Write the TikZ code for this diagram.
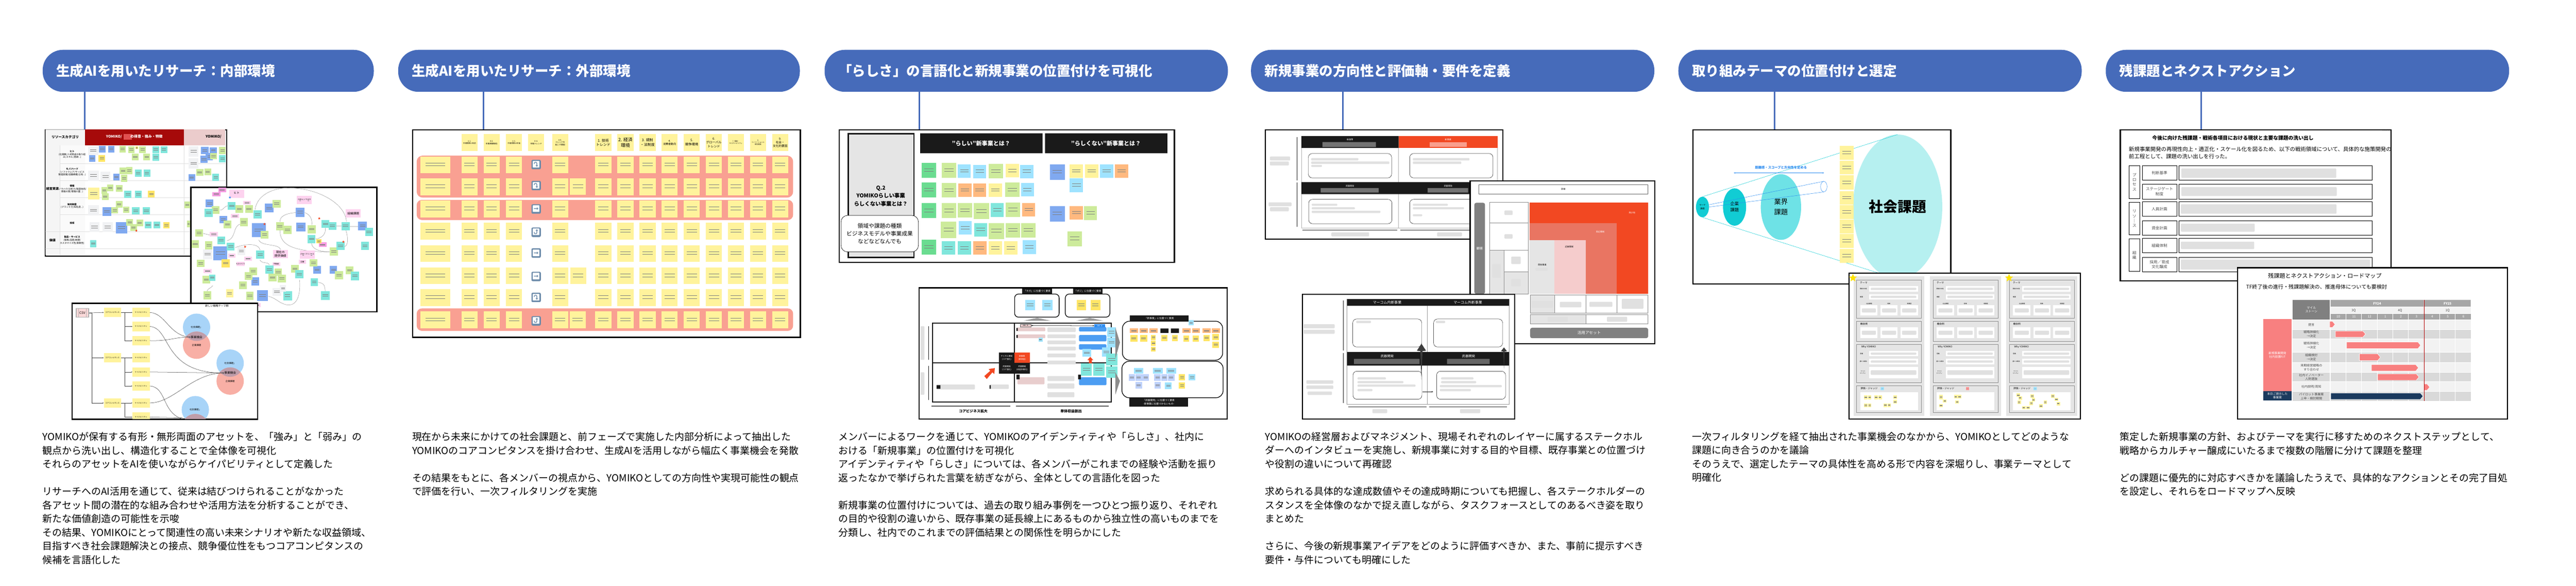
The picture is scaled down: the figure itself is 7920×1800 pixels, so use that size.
\documentclass[tikz,border=0pt]{standalone}
\usepackage{fontspec}
\setmainfont{Noto Sans CJK JP}
\newfontfamily\symfont{Noto Emoji}
\usetikzlibrary{arrows.meta,shapes.geometric}
\definecolor{stage}{HTML}{466BBA}
\definecolor{notegreen}{HTML}{CDEB9B}
\definecolor{noteteal}{HTML}{80E6DC}
\definecolor{noteblue}{HTML}{80A9F0}
\definecolor{notewhite}{HTML}{F1F2F4}
\definecolor{noteyellow}{HTML}{FFE566}
\definecolor{notecream}{HTML}{FFF39C}
\definecolor{notepink}{HTML}{FDD3EF}
\definecolor{notemag}{HTML}{F79BE2}
\definecolor{notesky}{HTML}{9FE3FF}
\definecolor{noteorange}{HTML}{FFB97F}
\definecolor{notelime}{HTML}{6ADC90}
\definecolor{notelilac}{HTML}{BFD2FB}
\definecolor{salmon}{HTML}{F9A092}
\definecolor{redcore}{HTML}{A60A0A}
\definecolor{pinkcore}{HTML}{EBCCCC}
\definecolor{flame}{HTML}{F24822}
\definecolor{coral}{HTML}{E97562}
\definecolor{blush}{HTML}{F5CCCC}
\definecolor{sheet}{HTML}{E5E5E5}
\definecolor{ink}{HTML}{1A1A1A}
\definecolor{cyanA}{HTML}{11CCD4}
\definecolor{cyanB}{HTML}{6EE2E6}
\definecolor{cyanC}{HTML}{B6F0F0}
\definecolor{azure}{HTML}{2D8CF0}
\definecolor{skyblob}{HTML}{A8D4F8}
\definecolor{redblob}{HTML}{F8AFA5}
\definecolor{lens}{HTML}{BF9DAA}
\definecolor{ganttlight}{HTML}{F2F2F2}
\definecolor{ganttmid}{HTML}{D9D9D9}
\definecolor{gantthead}{HTML}{A6A6A6}
\definecolor{ganttdark}{HTML}{808080}
\definecolor{ganttbar}{HTML}{F88080}
\definecolor{navy}{HTML}{1B3A5E}
\definecolor{trendblue}{HTML}{6C8BAA}
\newcommand{\fs}[2]{\fontsize{#1}{#2}\selectfont}
\newcommand{\stickies}[2]{\foreach \x/\y/\w/\h in {#2} {
    \fill[#1] (\x,\y) rectangle ++(\w,\h);
    \draw[scrib] (\x+.18*\w,\y+.38*\h) -- ++(.64*\w,0) (\x+.18*\w,\y+.56*\h) -- ++(.64*\w,0);
}}
\newcommand{\blurs}[1]{\foreach \x/\y/\w/\h in {#1} {\fill[blurbar] (\x,\y) rectangle ++(\w,\h);}}
\tikzset{
    crop/.style n args={4}{shift={(#1,#2)},x=#3pt,y=-#4pt},
    heading/.style={anchor=north west, fill=stage, text=white, font=\bfseries\fs{42}{50}, align=left,
        inner xsep=42pt, inner ysep=0pt, minimum height=129pt, rounded corners=62pt},
    stem/.style={stage, line width=5pt},
    panel/.style={rectangle, anchor=north west, draw=black, fill=white, line width=3.5pt, inner sep=0pt},
    bodytext/.style={anchor=north west, inner sep=0pt, align=left, font=\fs{30}{42}},
    scrib/.style={black!50, line width=.5pt},
    blurbar/.style={fill=black!12, rounded corners=2pt},
    hair/.style={black!12, line width=.8pt},
    label/.style={inner sep=0pt, align=center, font=\fs{7}{9}},
    boxed/.style={rectangle, draw=black, fill=white, rounded corners=12pt, inner sep=0pt},
    tagblack/.style={rectangle, fill=ink, text=white, inner sep=0pt, align=center, font=\fs{7.5}{10}},
    link/.style={black!75, line width=.8pt, -{Stealth[length=4pt,width=3pt]}},
    curveline/.style={black!45, line width=.7pt},
    trendkey/.style={rectangle, fill=trendblue, rounded corners=4pt, text=white,
        minimum width=29pt, minimum height=29pt, inner sep=0pt, font=\symfont\fs{20}{22}},
    teststar/.style={star, star points=5, star point ratio=2.3, inner sep=0pt, draw=none},
    yellownote/.style={rectangle, fill=notecream, minimum width=53pt, minimum height=29pt,
        inner sep=0pt, font=\fs{5.5}{7}},
    stamp/.style={inner sep=0pt, text=black!40, font=\fs{4.5}{5}},
}

\begin{document}
\begin{tikzpicture}[x=1pt,y=-1pt]
\useasboundingbox (0,0) rectangle (7920,1800);

% Column 1
\node[heading,text width=934pt] (head1) at (131,153) {生成AIを用いたリサーチ：内部環境};
\node[panel,minimum width=557pt,minimum height=388pt] (tableA) at (138,397) {};
\draw[stem] ([xshift=130pt]head1.south west) -- ([xshift=123pt]tableA.north west);

\begin{scope}[crop={0}{100}{.765}{.51}]
\fill[black!4] (183,585) rectangle (342,680) (183,680) rectangle (240,1340);
\fill[black!2] (241,680) rectangle (342,1340);
\fill[redcore] (342,585) rectangle (740,680);
\fill[pinkcore] (740,585) rectangle (905,680);
\fill[red!50!redcore!70] (497,612) rectangle (530,646);
\foreach \ry in {790,892,995,1097} {\draw[hair] (241,\ry) -- (905,\ry);}
\foreach \ry in {1200,1302} {\draw[hair] (183,\ry) -- (905,\ry);}
\draw[hair] (240,680) -- (240,1340) (740,680) -- (740,1340);
\node[label,font=\bfseries\fs{10.5}{13}] (resCat) at (262,629) {リソースカテゴリ};
\node[label,font=\bfseries\fs{11}{13},text=white] (strongHead) at (540,629) {YOMIKO/\hspace{26pt}の得意・強み・特徴};
\node[label,font=\bfseries\fs{11}{13},anchor=west] (weakHead) at (826,629) {YOMIKO/};
\node[label,font=\bfseries\fs{9.5}{12}] (resGroup) at (211,941) {経営資源};
\node[label,font=\bfseries\fs{9.5}{12}] (valGroup) at (211,1252) {価値};
\foreach \ly/\txt [count=\i] in {735/{\textbf{ヒト}\\(社員数/人材育成の取り組\\み/スキル/意欲...)},
    841/{\textbf{モノ/ハード}\\(ソフトウェア/サービス\\製造設備/店舗規模/立地...)},
    943/{\textbf{情報}\\(ノウハウ/分析力/製造技術/\\情報の質/情報の量...)},
    1045/{\textbf{知的財産}\\(ブランド力/知名度...)},
    1148/{\textbf{技術}},
    1251/{\textbf{製品・サービス}\\(価格/品質/納期/\\カスタマイズ性/柔軟性)}} {
    \node[label] (resRow\i) at (290,\ly) {\txt};
}
\stickies{notewhite}{355/685/40/55,758/685/40/62,758/758/40/62,355/832/42/62,404/838/40/62,355/1041/42/62,360/1141/40/62,413/1141/40/62}
\stickies{noteblue}{397/682/28/40,435/682/25/40,358/740/26/38,808/688/30/45,843/692/28/35,826/725/30/45,805/742/30/44,455/850/26/40,758/854/26/40,412/1052/36/54,465/1141/47/70}
\stickies{notegreen}{480/682/26/40,515/685/26/40,560/685/27/40,530/728/27/42,576/728/27/42,881/690/26/42,844/725/28/40,481/813/28/42,507/811/26/42,486/858/26/42,789/822/28/42,822/820/26/40,407/932/24/40,430/916/26/40,466/920/27/40,410/968/26/40,448/1051/26/40,466/1016/26/40,494/1048/26/40,741/1018/24/40,508/1125/26/40,549/1127/26/40,524/1156/26/40,751/1133/14/40}
\stickies{noteteal}{613/685/27/40,645/685/27/40,613/730/27/42,881/740/26/42,542/827/27/42,577/827/27/42,854/851/27/42,500/953/28/45,542/953/28/45,531/1052/30/45,573/1052/30/45,582/1139/27/42,617/1139/27/42,362/1250/26/44}
\stickies{noteyellow}{396/738/26/40,545/687/10/15,595/954/26/40,656/1141/26/40}
\stickies{notecream}{355/935/45/70}
\node[teststar,fill=flame,minimum size=8pt] (starTable) at (548,1194) {};
\end{scope}

\node[panel,minimum width=572pt,minimum height=382pt] (mapA) at (585,574) {};
\begin{scope}[crop={0}{100}{.765}{.51}]
% connections on the board
\draw[curveline] (1025,1068) .. controls (1035,960) and (1120,935) .. (1160,935) .. controls (1290,940) and (1390,1040) .. (1392,1140);
\draw[curveline] (885,1070) .. controls (900,1070) and (900,1045) .. (916,1045);
\draw[curveline] (1189,1085) .. controls (1150,1090) and (1125,1105) .. (1125,1140);
\draw[curveline] (1225,1085) .. controls (1250,1100) and (1255,1130) .. (1253,1160);
\draw[curveline] (1125,1190) .. controls (1125,1270) and (1160,1320) .. (1325,1322);
\draw[curveline] (1252,1270) .. controls (1255,1310) and (1290,1320) .. (1325,1322);
\draw[curveline] (1308,1178) .. controls (1310,1220) and (1290,1240) .. (1268,1245);
\draw[curveline] (1390,1190) .. controls (1400,1240) and (1400,1280) .. (1385,1290);
\draw[curveline] (1040,1250) .. controls (1050,1290) and (1120,1270) .. (1128,1308);
\draw[curveline] (945,1296) .. controls (990,1270) and (1040,1270) .. (1045,1310);
\draw[curveline] (964,1155) .. controls (935,1170) and (950,1240) .. (912,1255);
\draw[curveline] (815,1210) -- (843,1220) (1045,1370) .. controls (1050,1395) and (1080,1380) .. (1082,1400);
\draw[curveline] (1204,1490) .. controls (1210,1620) and (1180,1650) .. (1150,1640) .. controls (1120,1630) and (1110,1600) .. (1078,1589);
\draw[curveline] (1277,1505) .. controls (1310,1510) and (1305,1540) .. (1307,1558);
\draw[curveline] (855,1525) .. controls (850,1540) and (835,1540) .. (832,1559);
\draw[black!25,line width=1.5pt] (1350,1165) -- (1372,1165) (1405,1168) -- (1440,1168);
\stickies{notepink}{921/946/60/50,1193/984/60/50,1390/1065/60/50,978/1014/30/24,928/1094/32/24,843/1202/32/26,918/1332/28/24,981/1350/32/24,951/1382/32/24,1097/1310/60/50,1205/1313/60/50,1200/1370/30/25,1095/1384/32/24,818/1424/32/26,1020/1630/27/26}
\stickies{notemag}{877/936/31/25,854/961/32/25,1281/1265/32/28}
\stickies{noteblue}{827/1006/31/48,1065/1031/35/54,883/1104/30/46,1189/1055/34/55,1191/1145/36/52,1440/1138/35/55,1013/1150/55/84,858/1288/56/84,1010/1476/32/48,1259/1407/30/46,1325/1407/30/46,1033/1551/43/68}
\stickies{notegreen}{852/1045/30/48,946/1040/31/48,985/1040/32/48,1096/1008/33/48,899/1134/30/46,964/1119/32/48,1109/1141/32/52,1139/1165/32/50,1237/1160/32/50,785/1185/30/46,1048/1195/30/46,770/1252/30/46,824/1258/30/48,791/1368/30/46,1325/1295/33/50,1245/1365/30/46,1003/1415/30/46,1103/1421/30/46,984/1445/30/46,1079/1453/32/48,1117/1458/32/48,1170/1400/30/48,1346/1438/32/48,1390/1410/30/46,814/1465/30/48,961/1499/30/46,818/1559/30/48,989/1563/30/48}
\stickies{noteteal}{823/1062/32/50,916/1021/31/48,1018/1070/34/50,1292/1130/32/48,1320/1141/32/48,1372/1141/33/50,1467/1176/32/50,1236/1219/32/50,1353/1260/32/50,1451/1260/32/50,873/1228/31/48,912/1266/31/48,1030/1314/32/48,1067/1403/32/50,1187/1431/32/50,1410/1440/34/54,1249/1481/28/46,841/1458/25/38,1138/1558/35/56,1290/1559/35/52}
\stickies{notewhite}{816/1306/38/60,955/1293/30/48,1095/1539/35/48,1125/1521/25/40}
\stickies{noteyellow}{1272/1246/20/25,891/1365/33/50}
\stickies{notecream}{908/1547/30/50}
\foreach \lx/\ly/\txt [count=\i] in {951/968/{ヒト},1420/1090/{組織課題},1127/1334/{現在の\\提供価値}} {
    \fill[notepink] (\lx-25,\ly-18) rectangle (\lx+25,\ly+18);
    \node[label,font=\fs{9}{12}] (mapBig\i) at (\lx,\ly) {\txt};
}
\foreach \lx/\ly/\txt [count=\i] in {1223/1008/{スキル/ノウハウ},1235/1337/{グループリソース},1215/1382/{店舗},1110/1394/{不動産},967/1394/{ものづくり}} {
    \fill[notepink] (\lx-14,\ly-10) rectangle (\lx+14,\ly+10);
    \node[label,font=\fs{5.5}{7}] (mapSmall\i) at (\lx,\ly) {\txt};
}
\node[teststar,fill=azure,minimum size=8pt] (starBlue) at (924,994) {};
\foreach \x/\y [count=\i] in {1283/1120,1063/1154,985/1291,1380/1261} {
    \node[teststar,fill=flame,minimum size=8pt] (starMap\i) at (\x,\y) {};
}
\end{scope}

\node[panel,minimum width=570pt,minimum height=355pt] (themeA) at (220,931) {};
\begin{scope}[crop={0}{850}{.765}{.606}]
\clip (themeA.north west) rectangle (themeA.south east);
\node[label,font=\fs{8}{10}] (themeTitle) at (872,148) {新しい戦略テーマ群};
\foreach \n/\cx/\cy in {1/790/257,2/925/439,3/785/675} {
    \node[circle,fill=skyblob,minimum size=84pt,inner sep=0pt] (soc\n) at (\cx,\cy) {};
    \node[circle,fill=redblob,minimum size=84pt,inner sep=0pt] (ent\n) at (\cx,\cy+91) {};
    \begin{scope}
    \clip (soc\n.center) circle [radius=42pt];
    \fill[lens] (ent\n.center) circle [radius=42pt];
    \end{scope}
    \node[label,font=\fs{7}{9}] at (soc\n.center) {社会課題」};
}
\node[label,font=\fs{7}{9}] (entText1) at (ent1.center) {企業課題};
\node[label,font=\fs{7}{9}] (entText2) at (ent2.center) {企業課題};
\node[label,font=\fs{9}{11}] (opp1) at (790,307) {事業機会};
\node[label,font=\fs{9}{11}] (opp2) at (925,489) {事業機会};
\node[rectangle,draw=black!30,line width=3pt,fill=red!15,minimum width=38pt,minimum height=27pt,inner sep=0pt,font=\fs{10}{12}] (csv) at (331,184) {CSV};
\draw[black!30,line width=2pt] (315,160) -- (315,208) (347,160) -- (347,208);
\foreach \cy [count=\i] in {182,412,641} {\node[yellownote] (core\i) at (452,\cy) {コアコンピタンス};}
\foreach \cy [count=\i] in {182,253,325,412,484,555,641,713} {\node[yellownote] (cap\i) at (567,\cy) {ケイパビリティ};}
\coordinate (capOut6) at (733,722);
\coordinate (capOut8) at (733,716);
% links
\draw[link] (csv.east) -- (core1.west);
\draw[link] (csv.east) -- ++(11,0) |- (core2.west);
\draw[link] (csv.east) -- ++(11,0) |- (core3.west);
\foreach \a/\b in {1/1,1/2,1/3,2/4,2/5,2/6,3/7,3/8} {
    \draw[link] (core\a.east) -- ++(15,0) |- (cap\b.west);
}
\draw[link] (cap1.east) .. controls (665,185) and (680,300) .. (opp1.west);
\draw[link] (cap2.east) .. controls (690,260) and (650,490) .. (opp2.west);
\draw[link] (cap3.east) .. controls (680,328) and (700,307) .. (opp1.west);
\draw[link] (cap5.east) -- (opp2.west);
\draw[curveline,black!75,line width=.8pt] (cap6.east) .. controls (670,560) and (650,690) .. (capOut6);
\draw[link] (cap7.east) .. controls (700,640) and (770,490) .. (opp2.west);
\draw[curveline,black!75,line width=.8pt] (cap8.east) -- (capOut8);
\draw[black,line width=3.5pt] (themeA.north west) rectangle (themeA.south east);
\end{scope}

\node[bodytext] (body1) at (131,1328) {YOMIKOが保有する有形・無形両面のアセットを、「強み」と「弱み」の\\
観点から洗い出し、構造化することで全体像を可視化\\
それらのアセットをAIを使いながらケイパビリティとして定義した\\[42pt]
リサーチへのAI活用を通じて、従来は結びつけられることがなかった\\
各アセット間の潜在的な組み合わせや活用方法を分析することができ、\\
新たな価値創造の可能性を示唆\\
その結果、YOMIKOにとって関連性の高い未来シナリオや新たな収益領域、\\
目指すべき社会課題解決との接点、競争優位性をもつコアコンピタンスの\\
候補を言語化した};

% Column 2
\node[heading,text width=1151pt] (head2) at (1224,153) {生成AIを用いたリサーチ：外部環境};
\node[panel,minimum width=1192pt,minimum height=638pt] (gridB) at (1267,397) {};
\draw[stem] ([xshift=263pt]head2.south west) -- ([xshift=220pt]gridB.north west);

\begin{scope}[crop={1180}{100}{.829}{.638}]
\fill[salmon,rounded corners=18pt] (122,593) rectangle (1518,795);
\fill[salmon,rounded corners=16pt] (122,806) rectangle (1518,903);
\fill[salmon,rounded corners=16pt] (122,1329) rectangle (1518,1437);
\foreach \ry in {597,703,810,917,1024,1131,1237,1344} {
    \stickies{notecream}{135/\ry/112/80}
    \foreach \cx in {288,370,453,624,784,866,948,1030,1112,1194,1276,1358,1440} {
        \stickies{notecream}{\cx/\ry/60/80}
    }
}
\stickies{notecream}{690/702/60/80,691/1131/60/80,689/1344/60/80}
\foreach \cx/\fsz/\txt [count=\i] in {288/5.5/{0-1.\\市場規模10年前},370/6/{0-2.\\市場規模現在},453/5.5/{0-3.\\市場規模10年後},535/6/{0-4.\\市場トレンド},624/6/{0-5.\\トレンドを\\起こす要因},784/11/{1. 技術\\トレンド},866/14/{2. 経済\\環境},948/11/{3. 規制\\・法制度},1030/8/{4.\\消費者動向},1112/10/{5.\\競争環境},1194/9.5/{6.\\グローバル\\トレンド},1276/5/{7. 環境・\\サステナビリティ},1358/5/{8.\\イノベーションと\\研究開発},1440/9/{9.\\社会・\\文化的要因}} {
    \pgfmathsetmacro{\lead}{\fsz*1.25}
    \fill[notecream] (\cx,490) rectangle ++(60,80);
    \node[label,font=\fs{\fsz}{\lead}] (gridHead\i) at (\cx+30,530) {\txt};
}
\foreach \ry/\sym [count=\i] in {636/⤵,737/⤵,850/➡,962/⤴,1062/➡,1175/➡,1276/⤵,1389/⤴} {
    \node[trendkey] (trend\i) at (565,\ry) {\sym};
}
\end{scope}

\node[bodytext] (body2) at (1267,1328) {現在から未来にかけての社会課題と、前フェーズで実施した内部分析によって抽出した\\
YOMIKOのコアコンピタンスを掛け合わせ、生成AIを活用しながら幅広く事業機会を発散\\[42pt]
その結果をもとに、各メンバーの視点から、YOMIKOとしての方向性や実現可能性の観点\\
で評価を行い、一次フィルタリングを実施};

% Column 3
\node[heading,text width=1156pt] (head3) at (2535,153) {「らしさ」の言語化と新規事業の位置付けを可視化};
\node[panel,minimum width=1031pt,minimum height=408pt] (workA) at (2578,397) {};
\draw[stem] ([xshift=292pt]head3.south west) -- ([xshift=249pt]workA.north west);

\begin{scope}[crop={2480}{100}{.829}{.765}]
\draw[ink,fill=sheet,line width=4pt] (154,407) rectangle (398,904);
\fill[ink] (421,405) rectangle (875,485) (884,405) rectangle (1338,485);
\node[label,text=white,font=\bfseries\fs{17.5}{21}] (fitHead) at (647,445) {"らしい"新事業とは？};
\node[label,text=white,font=\bfseries\fs{17.5}{21}] (unfitHead) at (1110,445) {"らしくない"新事業とは？};
\node[label,font=\bfseries\fs{16.5}{24}] (question) at (275,657) {Q.2\\YOMIKOらしい事業\\らしくない事業とは？};
\node[boxed,line width=1pt,minimum width=238pt,minimum height=112pt,rounded corners=20pt,font=\fs{17}{24},align=center] (hint) at (271,808) {領域や課題の種類\\ビジネスモデルや事業成果\\などなどなんでも};
\stickies{notelime}{427/524/54/60,427/603/54/60,427/686/54/60,427/832/54/60}
\stickies{notegreen}{502/524/53/60,675/528/53/58,502/605/53/58,736/603/53/58,502/686/53/60,561/686/53/58,619/686/58/64,739/683/53/58,498/760/57/65,675/765/58/65,739/765/53/58,796/765/53/58,1029/698/48/55,967/798/53/60}
\stickies{notesky}{561/529/48/55,618/531/48/54,792/531/49/54,795/605/48/54,564/758/49/54,801/835/49/55,1088/529/49/55,976/585/49/56}
\stickies{notecream}{739/528/48/54,675/606/49/54,675/838/49/55,733/838/49/55,976/529/48/55,1033/529/49/55}
\stickies{noteorange}{562/606/50/54,617/606/49/54,800/685/48/54,618/838/49/55,1144/529/49/55,976/697/49/55}
\stickies{noteteal}{683/686/48/54,621/765/49/54,502/838/49/55,561/838/49/55}
\stickies{noteblue}{903/529/54/62,903/697/54/62}
\end{scope}

\node[panel,minimum width=947pt,minimum height=403pt] (posA) at (2824,883) {};
\begin{scope}[crop={2480}{100}{.829}{.765}]
\node[boxed,line width=2pt,minimum width=137pt,minimum height=71pt] (negBox) at (854,1097) {};
\node[boxed,line width=2pt,minimum width=137pt,minimum height=71pt] (posBox) at (1042,1097) {};
\node[tagblack,minimum width=91pt,minimum height=17pt] (negTag) at (855,1039) {「ネガ」に位置づく要素};
\node[tagblack,minimum width=91pt,minimum height=17pt] (posTag) at (1043,1039) {「ポジ」に位置づく要素};
\stickies{notesky}{810/1074/38/42,874/1074/38/42}
\stickies{noteyellow}{1001/1074/36/42,1053/1074/36/42}
\fill[black!40] (805,1158) -- (855,1146) -- (905,1158) -- cycle (1000,1158) -- (1050,1146) -- (1100,1158) -- cycle;
\draw[ink,line width=3pt] (466,1168) rectangle (1130,1485) (770,1168) -- (770,1485) (466,1327) -- (1130,1327);
\draw[ink,line width=2pt] (452,1180) -- (452,1315) (452,1340) -- (452,1475);
\draw[ink!70,line width=3pt] (463,1500) -- (756,1500) (776,1500) -- (1121,1500);
\blurs{422/1180/15/135,422/1365/15/90,893/1185/105/18,893/1213/105/15,893/1237/105/15,893/1262/105/15,893/1290/105/15,893/1318/105/15,893/1380/100/20,893/1410/100/20,893/1445/100/20,482/1414/142/20,680/1414/70/18}
\fill[pink!70!gray!60,rounded corners=2pt] (780,1185) rectangle ++(105,15) (780,1213) rectangle ++(105,15) (782,1385) rectangle ++(100,28);
\fill[azure!85,rounded corners=3pt] (1010,1183) rectangle ++(102,18) (1010,1215) rectangle ++(102,26) (1010,1252) rectangle ++(102,22) (1010,1385) rectangle ++(102,32);
\node[tagblack,minimum width=47pt,minimum height=33pt,font=\fs{6}{9}] (channelCell) at (742,1307) {チャネル開発\\(コア強化)};
\node[tagblack,fill=flame,minimum width=47pt,minimum height=33pt,font=\fs{6}{9}] (newCell) at (799,1307) {新事業\\(新収益)};
\node[tagblack,minimum width=47pt,minimum height=33pt,font=\fs{6}{9}] (armCore) at (742,1348) {武器開発\\(コア強化)};
\node[tagblack,minimum width=47pt,minimum height=33pt,font=\fs{6}{9}] (armProfit) at (799,1348) {武器開発\\(収益多層化)};
\fill[flame] (668,1392) -- (659,1380) -- (681,1359) -- (675,1352) -- (698,1348) -- (696,1372) -- (689,1365) -- cycle;
\fill[flame] (1052,1303) -- (1063,1316) -- (1058,1316) -- (1058,1330) -- (1047,1330) -- (1047,1316) -- (1041,1316) -- cycle;
\node[rectangle,draw=black!60,fill=pinkcore,minimum width=33pt,minimum height=8pt,inner sep=0pt,font=\fs{4}{5}] (lowTag) at (812,1177) {評価：低};
\node[rectangle,fill=azure,text=white,minimum width=33pt,minimum height=9pt,inner sep=0pt,font=\fs{4}{5}] (highTag) at (1087,1178) {評価：高};
\draw[ink,line width=1.2pt,{Stealth[length=5pt]}-{Stealth[length=5pt]}] (lowTag) -- (highTag);
\stickies{notesky}{1115/1185/33/38,1115/1225/33/40,860/1225/15/17,1022/1272/33/30,1095/1265/33/38}
\stickies{noteteal}{1018/1330/40/48,1063/1330/42/48,1110/1290/42/48,1110/1342/42/45}
\fill[ink] (482,1417) rectangle ++(14,14) (678,1417) rectangle ++(5,14) (778,1187) rectangle ++(5,12) (778,1215) rectangle ++(5,12) (778,1375) rectangle ++(12,18) (1007,1375) rectangle ++(10,18);
\fill[black!45] (1145,1185) -- (1162,1245) -- (1145,1310) -- cycle (1145,1365) -- (1162,1400) -- (1145,1455) -- cycle;
\node[boxed,line width=2pt,rounded corners=22pt,minimum width=308pt,minimum height=120pt] (newBox) at (1357,1238) {};
\node[boxed,line width=2pt,rounded corners=22pt,minimum width=311pt,minimum height=112pt] (armBox) at (1357,1394) {};
\node[tagblack,minimum width=181pt,minimum height=19pt] (newTag) at (1308,1149) {「新事業」に位置づく要素};
\node[tagblack,minimum width=180pt,minimum height=28pt] (armTag) at (1306,1485) {『武器開発』に位置づく要素\\-新事業に位置づかないもの-};
\stickies{noteorange}{1199/1189/30/18,1235/1189/30/18,1271/1189/30/18,1394/1189/30/18,1429/1189/30/18,1469/1189/30/18,1503/1189/30/18}
\fill[ink] (1312,1189) rectangle ++(30,18) (1351,1189) rectangle ++(30,18);
\stickies{notesky}{1417/1156/18/20,1213/1347/36/24,1284/1347/36/24,1334/1347/36/24,1417/1372/24/26,1329/1405/25/28}
\stickies{noteyellow}{1200/1215/27/28,1236/1215/27/28,1277/1215/18/20,1277/1238/18/20,1277/1262/18/20,1316/1215/22/24,1355/1215/22/24,1397/1218/22/24,1432/1218/22/24,1471/1215/24/24,1505/1212/24/24,1505/1242/24/24,1381/1372/22/26,1381/1405/22/26}
\stickies{notelilac}{1194/1372/24/28,1220/1372/24/28,1245/1372/24/28,1289/1372/24/28,1315/1372/24/28,1340/1372/24/28,1220/1403/24/28,1290/1403/24/28}
\node[label,font=\bfseries\fs{11}{14}] (coreAxis) at (618,1521) {コアビジネス拡大};
\node[label,font=\bfseries\fs{11}{14}] (soloAxis) at (981,1521) {単体収益創出};
\end{scope}

\node[bodytext] (body3) at (2578,1328) {メンバーによるワークを通じて、YOMIKOのアイデンティティや「らしさ」、社内に\\
おける「新規事業」の位置付けを可視化\\
アイデンティティや「らしさ」については、各メンバーがこれまでの経験や活動を振り\\
返ったなかで挙げられた言葉を紡ぎながら、全体としての言語化を図った\\[42pt]
新規事業の位置付けについては、過去の取り組み事例を一つひとつ振り返り、それぞれ\\
の目的や役割の違いから、既存事業の延長線上にあるものから独立性の高いものまでを\\
分類し、社内でのこれまでの評価結果との関係性を明らかにした};

% Column 4
\node[heading,text width=1156pt] (head4) at (3846,153) {新規事業の方向性と評価軸・要件を定義};
\node[panel,minimum width=730pt,minimum height=336pt] (axisA) at (3889,397) {};
\draw[stem] ([xshift=283pt]head4.south west) -- ([xshift=240pt]axisA.north west);

\begin{scope}[crop={3780}{100}{.829}{.765}]
\draw[black!30,line width=.8pt] (267,416) rectangle (994,785) (627,416) -- (627,785);
\fill[ink] (267,416) rectangle (627,464) (267,601) rectangle (627,649) (627,601) rectangle (994,649);
\fill[flame] (627,416) rectangle (994,464);
\node[label,text=white,font=\fs{6.5}{8}] (newMeasure) at (447,431) {新施策};
\node[label,text=white,font=\fs{6.5}{8}] (newBiz) at (811,431) {新事業};
\node[label,text=white,font=\fs{6.5}{8}] (armLeft) at (447,617) {武器開発};
\node[label,text=white,font=\fs{6.5}{8}] (armRight) at (811,617) {武器開発};
\fill[black!55] (345,440) rectangle (543,460) (338,625) rectangle (553,643) (735,625) rectangle (885,643);
\fill[red!10!white,opacity=.55] (742,440) rectangle (880,460);
\node[boxed,line width=.7pt,minimum width=256pt,minimum height=75pt] (boxA) at (447,535) {};
\node[boxed,line width=.7pt,minimum width=256pt,minimum height=75pt] (boxB) at (823,535) {};
\node[boxed,line width=.7pt,minimum width=256pt,minimum height=75pt] (boxC) at (448,719) {};
\node[boxed,line width=.7pt,minimum width=256pt,minimum height=75pt] (boxD) at (823,719) {};
\blurs{303/504/175/10,303/518/290/10,303/532/40/8,680/504/210/10,680/518/180/10,305/688/95/8,305/702/160/8,305/716/255/9,680/688/130/8,680/702/190/8,680/730/35/8,150/498/75/16,150/518/70/16,145/682/85/16,150/702/70/16,378/803/140/16,770/803/92/16}
\draw[ink,line width=1pt] (251,420) -- (251,595) (251,603) -- (251,780) (271,794) -- (623,794) (634,794) -- (890,794);
\end{scope}

\node[panel,minimum width=568pt,minimum height=501pt] (axisB) at (4518,554) {};
\begin{scope}[crop={3780}{100}{.829}{.765}]
\node[rectangle,draw=black!60,line width=.7pt,minimum width=520pt,minimum height=29pt,inner sep=0pt,font=\fs{6.5}{8}] (detail) at (1238,630) {詳細};
\node[rectangle,fill=ganttdark,rounded corners=6pt,minimum width=33pt,minimum height=280pt,inner sep=0pt,text=white,font=\fs{10}{12}] (customer) at (928,867) {顧客};
\draw[black!45,line width=.6pt] (965,682) rectangle (1108,764) (965,764) rectangle (1108,873);
\draw[black!45,line width=.6pt,fill=sheet] (965,873) rectangle (1018,1050) (1018,961) rectangle (1108,1050);
\draw[black!45,line width=.6pt] (1018,873) rectangle (1108,961);
\fill[flame] (1114,682) rectangle (1552,1050);
\fill[coral] (1114,766) rectangle (1437,1050);
\fill[blush] (1205,834) rectangle (1322,1050);
\fill[sheet] (1114,834) rectangle (1205,1050);
\node[label,text=white,font=\fs{6.5}{8}] (farZone) at (1493,724) {飛び地};
\node[label,text=white,font=\fs{6.5}{8}] (sideZone) at (1375,801) {周辺領域};
\node[label,font=\fs{6.5}{8}] (nearZone) at (1260,861) {近接領域};
\node[label,font=\fs{6.5}{8}] (coreZone) at (1160,934) {既存事業};
\fill[sheet] (1115,1053) rectangle (1206,1127) (1115,1133) rectangle (1321,1171);
\draw[black!45,line width=.6pt] (1115,1053) rectangle (1206,1127) (1206,1053) rectangle (1321,1127) (1321,1053) rectangle (1436,1127) (1436,1053) rectangle (1551,1127) (1115,1133) rectangle (1321,1171) (1321,1133) rectangle (1551,1171);
\blurs{1020/715/30/18,1020/810/30/18,975/930/32/55,1045/900/35/30,1045/990/35/30,1135/945/45/12,1120/1078/80/28,1225/1082/80/22,1335/1082/85/20,1455/1070/80/40,1180/1142/75/20,1400/1142/75/20}
\node[rectangle,fill=ganttdark,rounded corners=6pt,minimum width=363pt,minimum height=32pt,inner sep=0pt,text=white,font=\fs{12}{14}] (assets) at (1334,1207) {活用アセット};
\end{scope}

\node[panel,minimum width=652pt,minimum height=383pt] (axisC) at (4003,903) {};
\begin{scope}[crop={3780}{100}{.829}{.765}]
\draw[black!40,line width=.8pt] (436,1071) rectangle (1037,1493) (734,1098) -- (734,1493);
\fill[ink] (436,1071) rectangle (1037,1098) (436,1283) rectangle (1037,1338);
\node[label,text=white,font=\fs{11}{13}] (innerBiz) at (585,1085) {マーコム内新事業};
\node[label,text=white,font=\fs{11}{13}] (outerBiz) at (884,1085) {マーコム外新事業};
\node[label,text=white,font=\fs{10}{12}] (armInner) at (585,1301) {武器開発};
\node[label,text=white,font=\fs{10}{12}] (armOuter) at (887,1301) {武器開発};
\fill[black!60] (462,1311) rectangle (705,1332) (807,1311) rectangle (965,1332);
\node[boxed,line width=.7pt,minimum width=212pt,minimum height=86pt] (mcInner) at (585,1207) {};
\node[boxed,line width=.7pt,minimum width=212pt,minimum height=86pt] (mcOuter) at (885,1207) {};
\node[boxed,line width=.7pt,minimum width=212pt,minimum height=86pt] (mcArmIn) at (586,1417) {};
\node[boxed,line width=.7pt,minimum width=212pt,minimum height=86pt] (mcArmOut) at (896,1417) {};
\blurs{470/1158/55/9,765/1158/35/9,475/1385/105/9,475/1400/170/9,475/1414/215/9,475/1432/55/9,785/1385/120/9,785/1400/130/9,780/1416/230/9,780/1432/115/9,275/1172/115/16,275/1194/115/16,285/1397/100/14,285/1418/100/14,290/1442/90/14,530/1513/55/16,855/1513/75/16}
\draw[ink,line width=1pt] (423,1077) -- (423,1278) (423,1287) -- (423,1488) (440,1504) -- (731,1504) (740,1504) -- (1030,1504);
\fill[ink!85] (712,1395) -- (716,1280) -- (729,1278) -- (712,1250) -- (695,1278) -- (708,1280) -- cycle;
\fill[ink!85] (1018,1352) -- (1020,1282) -- (1029,1280) -- (1018,1265) -- (1007,1280) -- (1016,1282) -- cycle;
\draw[ink,line width=1pt,-{Stealth[length=5pt]}] ([yshift=-20pt,xshift=2pt]mcArmIn.east) -- ([yshift=-20pt,xshift=-10pt]mcArmOut.west);
\end{scope}

\node[bodytext] (body4) at (3890,1328) {YOMIKOの経営層およびマネジメント、現場それぞれのレイヤーに属するステークホル\\
ダーへのインタビューを実施し、新規事業に対する目的や目標、既存事業との位置づけ\\
や役割の違いについて再確認\\[42pt]
求められる具体的な達成数値やその達成時期についても把握し、各ステークホルダーの\\
スタンスを全体像のなかで捉え直しながら、タスクフォースとしてのあるべき姿を取り\\
まとめた\\[42pt]
さらに、今後の新規事業アイデアをどのように評価すべきか、また、事前に提示すべき\\
要件・与件についても明確にした};

% Column 5
\node[heading,text width=1156pt] (head5) at (5160,153) {取り組みテーマの位置付けと選定};
\node[panel,minimum width=793pt,minimum height=474pt] (scopeA) at (5203,397) {};
\draw[stem] ([xshift=296pt]head5.south west) -- ([xshift=253pt]scopeA.north west);

\begin{scope}[crop={5100}{100}{.829}{.765}]
\node[ellipse,fill=cyanC,minimum width=274pt,minimum height=444pt,inner sep=0pt,font=\bfseries\fs{44}{52}] (socIssue) at (886,700) {社会課題};
\node[ellipse,fill=cyanA,minimum width=71pt,minimum height=115pt,inner sep=0pt,align=center,font=\fs{13}{19}] (entIssue) at (281,701) {企業\\課題};
\node[ellipse,fill=cyanB,minimum width=124pt,minimum height=202pt,inner sep=0pt,align=center,font=\fs{21}{32}] (indIssue) at (453,701) {業界\\課題};
\node[ellipse,fill=cyanA,minimum width=40pt,minimum height=63pt,inner sep=0pt,align=center,font=\fs{6.5}{12}] (mkIssue) at (162,701) {マーケ\\課題};
\node[ellipse,draw=azure,fill=white,line width=.8pt,minimum width=20pt,minimum height=32pt,inner sep=0pt] (tube) at (612,619) {};
\draw[cyanA,line width=.8pt] (mkIssue.north) -- (socIssue.north) (mkIssue.south) -- (socIssue.south);
\draw[azure,line width=.8pt] ([yshift=7pt]mkIssue.east) -- (tube.north) (mkIssue.east) -- (tube.south);
\coordinate (reachL) at (278,564);
\coordinate (reachR) at (613,564);
\draw[azure,line width=1.2pt,{Stealth[length=5pt]}-{Stealth[length=5pt]}] (reachL) -- (reachR);
\node[label,text=azure,font=\bfseries\fs{10}{12}] (reachText) at (453,543) {距離感・スコープと方向性を定める};
\stickies{notecream}{672/456/50/56,672/515/50/55,672/574/50/58,672/637/50/55,672/694/50/56,672/751/50/56,672/810/50/56,672/870/50/56}
\end{scope}

\node[panel,minimum width=711pt,minimum height=448pt] (scopeB) at (5683,838) {};
\begin{scope}[crop={5100}{100}{.829}{.765}]
\foreach \dx [count=\c] in {0,284,567} {
    \fill[sheet] (722+\dx,980) rectangle ++(263,560);
    \foreach \ya/\yb in {993/1148,1159/1241,1252/1407,1418/1526} {
        \draw[black!45,line width=.6pt] (733+\dx,\ya) rectangle ++(241,\yb-\ya);
    }
    \foreach \xa/\ya/\nw/\nh in {58/1019/181/22,58/1051/181/22,25/1096/64/41,100/1096/64/41,174/1096/65/41,25/1185/64/42,100/1185/64/42,174/1185/65/42,58/1279/181/22,58/1311/181/22,58/1343/181/46} {
        \fill[white] (722+\dx+\xa,\ya) rectangle ++(\nw,\nh);
        \fill[blurbar] (722+\dx+\xa+6,\ya+.3*\nh) rectangle ++(\nw-12,.4*\nh);
    }
    \fill[white] (747+\dx,1444) rectangle ++(214,73);
    \foreach \lx/\ly/\txt [count=\k] in {38/1006/{テーマ},39/1171/{機会例},56/1264/{Why YOMIKO},58/1430/{評価・ジャッジ}} {
        \node[label,font=\fs{7.5}{9}] (sec\c-\k) at (722+\dx+\lx,\ly) {\txt};
    }
    \foreach \lx/\ly/\txt [count=\k] in {37/1030/{事業方向性},30/1062/{概要},58/1090/{社会課題},131/1090/{特徴},207/1090/{規模感},30/1290/{意義},37/1322/{勝てる戦法},35/1365/{ケイパ\\ビリティ}} {
        \node[label,font=\fs{4.5}{6}] (sub\c-\k) at (722+\dx+\lx,\ly) {\txt};
    }
}
\fill[notesky] (823,1424) rectangle ++(12,13) (1390,1424) rectangle ++(12,13);
\fill[red!40] (1139,1424) rectangle ++(12,13);
\fill[black!50] (825,1430) rectangle ++(8,1) (1141,1430) rectangle ++(8,1) (1392,1430) rectangle ++(8,1);
\stickies{notecream}{761/1458/13/16,776/1458/12/16,799/1458/14/15,814/1458/13/15,870/1458/13/13,870/1477/13/13,761/1491/13/13,776/1491/12/13,833/1490/14/14,848/1490/13/14,1040/1456/14/18,1054/1473/13/14,1040/1492/13/14,1095/1456/13/14,1109/1456/13/14,1100/1478/12/13,1327/1450/13/14,1334/1461/13/14,1330/1478/13/14,1378/1453/13/14,1383/1468/13/14,1375/1482/13/14,1347/1500/13/14,1363/1500/13/14,1411/1493/13/14,1427/1478/13/14,1455/1453/13/14,1468/1467/13/14,1475/1484/13/14}
\node[teststar,fill=yellow!85!orange,minimum size=26pt] (starFirst) at (720,986) {};
\node[teststar,fill=yellow!85!orange,minimum size=26pt] (starThird) at (1299,986) {};
\end{scope}

\node[bodytext] (body5) at (5202,1328) {一次フィルタリングを経て抽出された事業機会のなかから、YOMIKOとしてどのような\\
課題に向き合うのかを議論\\
そのうえで、選定したテーマの具体性を高める形で内容を深堀りし、事業テーマとして\\
明確化};

% Column 6
\node[heading,text width=1156pt] (head6) at (6474,153) {残課題とネクストアクション};
\node[panel,minimum width=832pt,minimum height=465pt] (todoA) at (6517,397) {};
\draw[stem] ([xshift=293pt]head6.south west) -- ([xshift=250pt]todoA.north west);

\begin{scope}[crop={6400}{100}{.829}{.765}]
\node[label,font=\bfseries\fs{15.5}{19}] (todoTitle) at (561,424) {今後に向けた残課題・戦術各項目における現状と主要な課題の洗い出し};
\node[label,anchor=north west,align=left,font=\fs{16.5}{22.5}] (todoLead) at (175,458) {新規事業開発の再現性向上・適正化・スケール化を図るため、以下の戦術領域について、具体的な施策開発の\\前工程として、課題の洗い出しを行った。};
\foreach \ya/\txt [count=\i] in {534/{プ\\ロ\\セ\\ス},680/{リ\\ソ\\｜\\ス},827/{組\\織}} {
    \node[boxed,rounded corners=0pt,line width=1.2pt,minimum width=33pt,minimum height=101pt,anchor=north west,align=center,font=\fs{12}{14.5},text=black!70] (groupBox\i) at (175,\ya) {\txt};
}
\foreach \ya/\txt [count=\i] in {533/{判断基準},609/{ステージゲート\\制度},679/{人員計画},755/{資金計画},826/{組織体制},902/{採用／育成\\文化醸成}} {
    \node[boxed,rounded corners=0pt,line width=1.2pt,minimum width=106pt,minimum height=45pt,anchor=north west,align=center,font=\fs{12}{15},text=black!70] (itemBox\i) at (224,\ya) {\txt};
    \node[boxed,rounded corners=0pt,line width=1.2pt,minimum width=594pt,minimum height=45pt,anchor=north west] (stateBox\i) at (361,\ya) {};
}
\blurs{370/546/574/38,370/621/576/36,368/690/577/38,368/768/274/32,368/840/272/30,368/912/702/40}
\node[stamp,anchor=north east] (stampA) at ([xshift=-3pt,yshift=-2pt]todoA.north east) {confidential};
\end{scope}

\node[panel,minimum width=830pt,minimum height=465pt] (todoB) at (6878,821) {};
\begin{scope}[crop={6400}{100}{.829}{.765}]
\node[label,font=\fs{17.5}{21}] (mapTitle) at (902,977) {残課題とネクストアクション・ロードマップ};
\node[label,anchor=west,font=\fs{16}{20}] (mapLead) at (610,1022) {TF終了後の進行・残課題解決の、推進母体についても要検討};
\node[rectangle,fill=ganttdark,minimum width=114pt,minimum height=60pt,inner sep=0pt,text=white,align=center,font=\fs{9.5}{12}] (mileHead) at (852,1113) {マイル\\ストーン};
\fill[gantthead] (923,1074) rectangle (1269,1101) (1271,1074) rectangle (1443,1101);
\fill[ganttlight] (923,1104) rectangle (1443,1129);
\node[label,text=white,font=\bfseries\fs{10}{12}] (fy24) at (1096,1089) {FY24};
\node[label,text=white,font=\bfseries\fs{10}{12}] (fy25) at (1357,1089) {FY25};
\foreach \lx/\txt [count=\i] in {1009/3Q,1181/4Q,1357/1Q} {\node[label,text=black!70,font=\fs{10}{12}] (quarter\i) at (\lx,1117) {\txt};}
\foreach \mon [count=\m from 0] in {10,11,12,1,2,3,4,5,6} {
    \fill[gantthead] (923+58*\m,1131) rectangle ++(56,21);
    \node[label,text=white,font=\fs{10}{12}] (month\mon) at (952+58*\m,1142) {\mon};
}
\foreach \ya/\yb/\tone/\txt [count=\i] in {1155/1192/ganttlight/{提言},1194/1230/ganttmid/{戦略詳細化\\→決定},1232/1283/ganttlight/{戦術詳細化\\→決定},1285/1325/ganttmid/{組織検討\\→決定},1327/1365/ganttlight/{来期経営戦略の\\すり合わせ},1367/1402/ganttmid/{社内イノベーター\\人財選抜},1404/1441/ganttlight/{社内説明/周知},1443/1480/ganttmid/{パイロット事業案\\上申・検討期間}} {
    \fill[\tone] (783,\ya) rectangle (921,\yb);
    \foreach \m in {0,...,8} {\fill[\tone] (923+58*\m,\ya) rectangle ++(56,\yb-\ya);}
    \node[label,text=black!70,font=\fs{9.5}{12}] (task\i) at (852,.5*\ya+.5*\yb) {\txt};
}
\node[rectangle,fill=ganttbar,minimum width=88pt,minimum height=221pt,inner sep=0pt,text=white,align=center,font=\fs{9}{11}] (pjtCell) at (726,1296) {新規事業開発\\社内設置PJT};
\node[rectangle,fill=navy,minimum width=88pt,minimum height=29pt,inner sep=0pt,text=white,align=center,font=\fs{9}{11}] (planCell) at (726,1460) {本日ご提示した\\事業案};
\foreach \xa/\ya/\xb/\yb/\tone in {920/1160/940/1185/ganttbar,941/1199/1053/1224/ganttbar,983/1243/1257/1270/ganttbar,1030/1291/1108/1318/ganttbar,1075/1334/1249/1360/ganttbar,1098/1371/1251/1397/ganttbar,1270/1412/1291/1437/ganttbar,924/1448/1266/1474/navy} {
    \draw[white,fill=\tone,line width=1pt] (\xa,\ya) -- (\xb-10,\ya) -- (\xb,.5*\ya+.5*\yb) -- (\xb-10,\yb) -- (\xa,\yb) -- cycle;
}
\draw[red!70!black,line width=1.5pt] (1270,1074) -- (1270,1480);
\node[stamp,anchor=north east] (stampB) at ([xshift=-3pt,yshift=-2pt]todoB.north east) {confidential};
\end{scope}

\node[bodytext] (body6) at (6517,1328) {策定した新規事業の方針、およびテーマを実行に移すためのネクストステップとして、\\
戦略からカルチャー醸成にいたるまで複数の階層に分けて課題を整理\\[42pt]
どの課題に優先的に対応すべきかを議論したうえで、具体的なアクションとその完了目処\\
を設定し、それらをロードマップへ反映};

\end{tikzpicture}
\end{document}
